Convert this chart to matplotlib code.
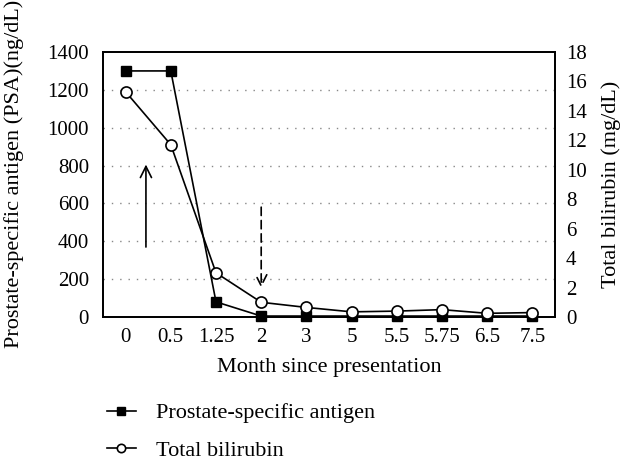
import matplotlib
matplotlib.use("Agg")
import matplotlib.pyplot as plt

plt.rcParams['font.family'] = ['Liberation Serif', 'DejaVu Serif']

categories = ["0", "0.5", "1.25", "2", "3", "5", "5.5", "5.75", "6.5", "7.5"]
psa = [1300, 1300, 80, 5, 5, 5, 5, 5, 5, 5]
bilirubin = [15.3, 11.7, 3.0, 1.0, 0.65, 0.35, 0.4, 0.5, 0.25, 0.3]
left_ticks = [0, 200, 400, 600, 800, 1000, 1200, 1400]
right_ticks = [0, 2, 4, 6, 8, 10, 12, 14, 16, 18]

fig = plt.figure(figsize=(6.34, 4.70), dpi=100)
ax = fig.add_axes([103/634, 1-317/470, 452/634, 265/470])
x = list(range(len(categories)))

l1, = ax.plot(x, psa, color='black', lw=1.2, marker='s', ms=7, mfc='black',
              label='Prostate-specific antigen', zorder=3, clip_on=False)
ax.set_xlim(-0.5, len(categories) - 0.5)
ax.set_ylim(0, 1400)
ax.set_yticks(left_ticks)
ax.set_xticks(x)
ax.set_xticklabels(categories)
ax.tick_params(length=0, labelsize=15, pad=8)
ax.tick_params(axis='y', pad=10)
for v in left_ticks[1:-1]:
    ax.axhline(v, color='#888888', lw=1, ls=(0, (1, 5)), zorder=1)
ax.set_ylabel('Prostate-specific antigen (PSA)(ng/dL)', fontsize=16, labelpad=6)
ax.yaxis.set_label_coords(-0.175, 0.54)
ax.set_xlabel('Month since presentation', fontsize=16, labelpad=8)

ax2 = ax.twinx()
l2, = ax2.plot(x, bilirubin, color='black', lw=1.2, marker='o', ms=8, mfc='white',
               mew=1.2, label='Total bilirubin', zorder=3, clip_on=False)
ax2.set_ylim(0, 18)
ax2.set_yticks(right_ticks)
ax2.tick_params(length=0, labelsize=15, pad=8)
ax2.set_ylabel('Total bilirubin (mg/dL)', fontsize=16, labelpad=10)

for a in (ax, ax2):
    for s in a.spines.values():
        s.set_linewidth(1.3)

# arrows
ax.annotate('', xy=(0.45, 820), xytext=(0.45, 355),
            arrowprops=dict(arrowstyle='->,head_length=0.8,head_width=0.4', color='black', lw=1.2))
ax.annotate('', xy=(3, 140), xytext=(3, 595),
            arrowprops=dict(arrowstyle='->,head_length=0.8,head_width=0.4', color='black', lw=1.2,
                            ls=(0, (5, 3))))

fig.legend(handles=[l1, l2], loc='upper left', bbox_to_anchor=(98/634, 1-394/470),
           frameon=False, fontsize=16, handlelength=1.3, labelspacing=0.75,
           handletextpad=0.9, borderaxespad=0, markerscale=0.75)

fig.savefig('out.png', dpi=100)
